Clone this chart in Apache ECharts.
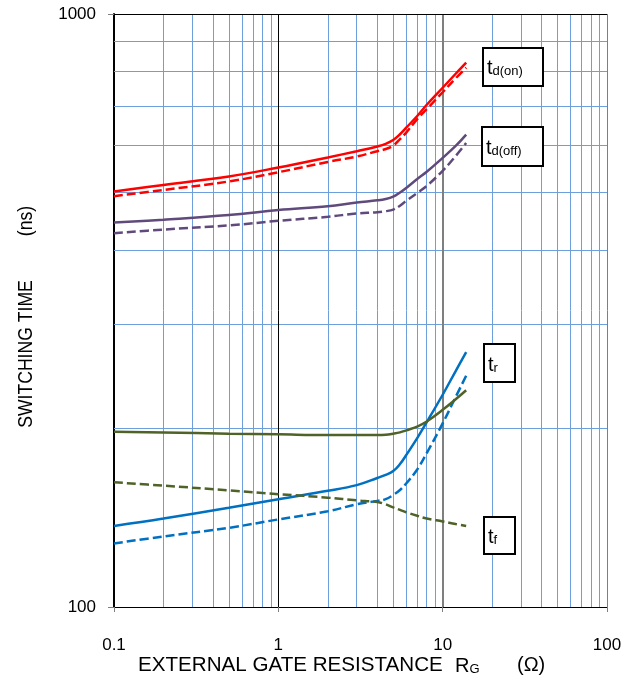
<!DOCTYPE html>
<html>
<head>
<meta charset="utf-8">
<script src="https://cdn.jsdelivr.net/npm/echarts@6/dist/echarts.min.js"></script>
<style>
html,body{margin:0;padding:0;background:#fff;}
#chart{width:636px;height:677px;}
</style>
</head>
<body>
<div id="chart"></div>
<script>
// External gate resistance RG (ohm)
const rg = [0.1, 0.2, 0.5, 1, 2, 3, 4, 4.5, 5, 5.5, 6, 7, 8, 10, 12, 13.9];
// Switching times (ns)
const tdOnSolid  = [502, 515, 532, 551, 573, 587, 598, 604, 613, 627, 643, 673, 703, 751, 793, 828];
const tdOnDash   = [493, 505, 522, 541, 563, 575, 587, 592, 600, 615, 631, 665, 691, 738, 779, 812];
const tdOffSolid = [445, 450, 458, 467, 474, 481, 485, 487.5, 492, 500, 509, 527, 542, 572, 599, 626];
const tdOffDash  = [427, 433, 440, 448, 455, 461, 463, 465, 468, 475, 484, 499, 513, 544, 576, 606];
const trSolid    = [137, 141, 147, 152, 157, 160.5, 165, 167, 169.5, 174.2, 180.4, 192.7, 205, 228, 250, 269];
const trDash     = [128, 131.5, 136, 140.5, 145, 149, 151, 152, 154.5, 157.5, 161.5, 170.6, 181.8, 204, 226, 245.5];
const tfSolid    = [197.5, 197, 196, 195.5, 195, 195, 195, 195.2, 196, 197, 198.5, 201.5, 205.5, 215, 224, 232];
const tfDash     = [162.3, 160.2, 157.3, 155, 152.9, 151.3, 150.3, 149, 147.2, 145.8, 144.5, 142.5, 141, 139.4, 138, 137];

// Grid line values
const decades = [0.1, 1, 10];
const minorMultipliers = [2, 3, 4, 5, 6, 7, 8, 9];
const yGridValues = [200, 300, 400, 500, 600, 700, 800, 900];

const FONT = 'Liberation Sans, Arial, sans-serif';
const GRID_BLUE = '#6d9fdc';

function pairs(ys) { return rg.map((x, i) => [x, ys[i]]); }

const gridLines = [];
decades.forEach(d => minorMultipliers.forEach(m => {
  gridLines.push({ xAxis: +(d * m).toPrecision(3), lineStyle: { color: GRID_BLUE, width: 1, type: 'solid' } });
}));
yGridValues.forEach(v => gridLines.push({ yAxis: v, lineStyle: { color: GRID_BLUE, width: 1, type: 'solid' } }));
gridLines.push({ xAxis: 1, lineStyle: { color: '#000', width: 1, type: 'solid' } });
gridLines.push({ xAxis: 10, lineStyle: { color: '#7f7f7f', width: 2, type: 'solid' } });
gridLines.push({ xAxis: 100, lineStyle: { color: '#7f7f7f', width: 1, type: 'solid' } });
gridLines.push({ yAxis: 1000, lineStyle: { color: '#000', width: 1, type: 'solid' } });

function curve(name, ys, color, dashed) {
  return {
    name: name, type: 'line', data: pairs(ys), smooth: 0.4,
    showSymbol: false, symbol: 'none', z: 5, silent: true,
    lineStyle: { color: color, width: 2.5, type: dashed ? [9, 4] : 'solid' }
  };
}

const chart = echarts.init(document.getElementById('chart'));
chart.setOption({
  animation: false,
  backgroundColor: '#fff',
  grid: { left: 114, right: 29, top: 14, bottom: 70, containLabel: false },
  xAxis: {
    type: 'log', logBase: 10, min: 0.1, max: 100,
    axisLine: { show: true, lineStyle: { color: '#000', width: 1 } },
    axisTick: { show: true, length: 5, lineStyle: { color: '#7f7f7f', width: 1 } },
    axisLabel: { margin: 30, fontSize: 17, color: '#000', fontFamily: FONT, formatter: v => String(v) },
    splitLine: { show: false },
    minorTick: { show: false }
  },
  yAxis: {
    type: 'log', logBase: 10, min: 100, max: 1000,
    axisLine: { show: true, lineStyle: { color: '#000', width: 2 } },
    axisTick: { show: true, length: 6, lineStyle: { color: '#7f7f7f', width: 1 } },
    axisLabel: { margin: 18, fontSize: 17, color: '#000', fontFamily: FONT, formatter: v => String(v) },
    splitLine: { show: false }
  },
  series: [
    {
      name: 'grid', type: 'line', data: [], z: 1, silent: true,
      markLine: { silent: true, symbol: ['none', 'none'], label: { show: false }, animation: false, data: gridLines }
    },
    curve('td(on) solid', tdOnSolid, '#ff0000', false),
    curve('td(on) dashed', tdOnDash, '#ff0000', true),
    curve('td(off) solid', tdOffSolid, '#604a7b', false),
    curve('td(off) dashed', tdOffDash, '#604a7b', true),
    curve('tr solid', trSolid, '#0070c0', false),
    curve('tr dashed', trDash, '#0070c0', true),
    curve('tf solid', tfSolid, '#4f6228', false),
    curve('tf dashed', tfDash, '#4f6228', true)
  ],
  graphic: [
    // label boxes
    { type: 'rect', z: 20, shape: { x: 483, y: 48, width: 60, height: 38 }, style: { fill: '#fff', stroke: '#000', lineWidth: 2 } },
    { type: 'text', z: 21, x: 487, y: 67, style: { text: '{t|t}{s|d(on)}', verticalAlign: 'middle',
      rich: { t: { fontSize: 20, fontFamily: FONT, fill: '#000', verticalAlign: 'bottom', lineHeight: 22 },
              s: { fontSize: 13, fontFamily: FONT, fill: '#000', verticalAlign: 'bottom', lineHeight: 22 } } } },
    { type: 'rect', z: 20, shape: { x: 482, y: 127, width: 61, height: 39 }, style: { fill: '#fff', stroke: '#000', lineWidth: 2 } },
    { type: 'text', z: 21, x: 486, y: 147, style: { text: '{t|t}{s|d(off)}', verticalAlign: 'middle',
      rich: { t: { fontSize: 20, fontFamily: FONT, fill: '#000', verticalAlign: 'bottom', lineHeight: 22 },
              s: { fontSize: 13, fontFamily: FONT, fill: '#000', verticalAlign: 'bottom', lineHeight: 22 } } } },
    { type: 'rect', z: 20, shape: { x: 484, y: 344, width: 31, height: 38 }, style: { fill: '#fff', stroke: '#000', lineWidth: 2 } },
    { type: 'text', z: 21, x: 488, y: 364, style: { text: '{t|t}{s|r}', verticalAlign: 'middle',
      rich: { t: { fontSize: 20, fontFamily: FONT, fill: '#000', verticalAlign: 'bottom', lineHeight: 22 },
              s: { fontSize: 13, fontFamily: FONT, fill: '#000', verticalAlign: 'bottom', lineHeight: 22 } } } },
    { type: 'rect', z: 20, shape: { x: 484, y: 517, width: 31, height: 37 }, style: { fill: '#fff', stroke: '#000', lineWidth: 2 } },
    { type: 'text', z: 21, x: 488, y: 536, style: { text: '{t|t}{s|f}', verticalAlign: 'middle',
      rich: { t: { fontSize: 20, fontFamily: FONT, fill: '#000', verticalAlign: 'bottom', lineHeight: 22 },
              s: { fontSize: 13, fontFamily: FONT, fill: '#000', verticalAlign: 'bottom', lineHeight: 22 } } } },
    // x axis title
    { type: 'text', z: 21, x: 138, y: 665, style: { text: 'EXTERNAL GATE RESISTANCE', font: '20.6px ' + FONT, fill: '#000', verticalAlign: 'middle' } },
    { type: 'text', z: 21, x: 455, y: 665, style: { text: '{a|R}{b|G}', verticalAlign: 'middle',
      rich: { a: { fontSize: 20, fontFamily: FONT, fill: '#000', verticalAlign: 'bottom', lineHeight: 22 },
              b: { fontSize: 13, fontFamily: FONT, fill: '#000', verticalAlign: 'bottom', lineHeight: 22 } } } },
    { type: 'text', z: 21, x: 517, y: 665, style: { text: '(Ω)', font: '20px ' + FONT, fill: '#000', verticalAlign: 'middle' } },
    // y axis title
    { type: 'text', z: 21, x: 26, y: 354, rotation: Math.PI / 2, scaleX: 0.88,
      style: { text: 'SWITCHING TIME', font: '20px ' + FONT, fill: '#000', align: 'center', verticalAlign: 'middle' } },
    { type: 'text', z: 21, x: 26, y: 221, rotation: Math.PI / 2, scaleX: 0.88,
      style: { text: '(ns)', font: '20px ' + FONT, fill: '#000', align: 'center', verticalAlign: 'middle' } }
  ]
});
</script>
</body>
</html>
